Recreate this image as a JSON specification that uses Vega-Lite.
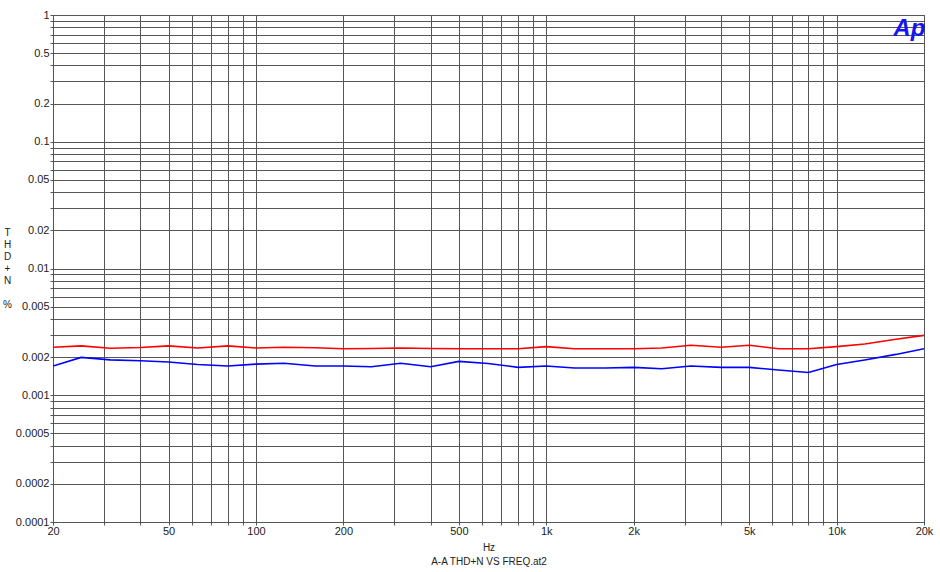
{
  "$schema": "https://vega.github.io/schema/vega-lite/v6.json",
  "width": 871,
  "height": 507,
  "autosize": {"type": "none"},
  "padding": {"left": 53, "top": 15, "right": 16, "bottom": 50},
  "background": "white",
  "config": {
    "font": "Liberation Sans",
    "view": {"stroke": "#555555", "strokeWidth": 1},
    "axis": {"labelFont": "Liberation Sans", "titleFont": "Liberation Sans", "labelColor": "#222222", "titleColor": "#222222", "labelFontSize": 11, "titleFontSize": 10, "titleFontWeight": "normal", "gridColor": "#555555", "gridOpacity": 1, "gridWidth": 1, "tickColor": "#555555", "domain": false, "labelOverlap": false, "labelBound": false, "labelFlush": false}
  },
  "datasets": {
    "thd": [
      {"f": 20, "red": 0.00239, "blue": 0.00170},
      {"f": 25, "red": 0.00245, "blue": 0.00199},
      {"f": 31.5, "red": 0.00235, "blue": 0.00190},
      {"f": 40, "red": 0.00238, "blue": 0.00187},
      {"f": 50, "red": 0.00245, "blue": 0.00183},
      {"f": 63, "red": 0.00236, "blue": 0.00175},
      {"f": 80, "red": 0.00245, "blue": 0.00170},
      {"f": 100, "red": 0.00236, "blue": 0.00176},
      {"f": 125, "red": 0.00239, "blue": 0.00179},
      {"f": 160, "red": 0.00237, "blue": 0.00170},
      {"f": 200, "red": 0.00233, "blue": 0.00170},
      {"f": 250, "red": 0.00234, "blue": 0.00168},
      {"f": 315, "red": 0.00236, "blue": 0.00179},
      {"f": 400, "red": 0.00234, "blue": 0.00168},
      {"f": 500, "red": 0.00233, "blue": 0.00185},
      {"f": 630, "red": 0.00233, "blue": 0.00178},
      {"f": 800, "red": 0.00233, "blue": 0.00166},
      {"f": 1000, "red": 0.00242, "blue": 0.00170},
      {"f": 1250, "red": 0.00233, "blue": 0.00164},
      {"f": 1600, "red": 0.00233, "blue": 0.00164},
      {"f": 2000, "red": 0.00233, "blue": 0.00166},
      {"f": 2500, "red": 0.00236, "blue": 0.00162},
      {"f": 3150, "red": 0.00248, "blue": 0.00170},
      {"f": 4000, "red": 0.00239, "blue": 0.00166},
      {"f": 5000, "red": 0.00248, "blue": 0.00166},
      {"f": 6300, "red": 0.00233, "blue": 0.00158},
      {"f": 8000, "red": 0.00233, "blue": 0.00151},
      {"f": 10000, "red": 0.00242, "blue": 0.00175},
      {"f": 12500, "red": 0.00254, "blue": 0.00190},
      {"f": 16000, "red": 0.00277, "blue": 0.00210},
      {"f": 20000, "red": 0.00297, "blue": 0.00233}
    ]
  },
  "layer": [
    {
      "data": {"name": "thd"},
      "mark": {"type": "line", "color": "#ff0000", "strokeWidth": 1.6, "clip": true},
      "encoding": {
        "x": {
          "field": "f", "type": "quantitative",
          "scale": {"type": "log", "domain": [20, 20000], "nice": false},
          "axis": {
            "title": ["Hz", "A-A THD+N VS FREQ.at2"],
            "titleY": 20, "titleBaseline": "top", "titleLineHeight": 14,
            "values": [20,30,40,50,60,70,80,90,100,200,300,400,500,600,700,800,900,1000,2000,3000,4000,5000,6000,7000,8000,9000,10000,20000],
            "labelExpr": "indexof([20,50,100,200,500,1000,2000,5000,10000,20000], datum.value) >= 0 ? (datum.value >= 1000 ? (datum.value/1000) + 'k' : '' + datum.value) : ''",
            "tickSize": 3, "labelPadding": 0, "grid": true
          }
        },
        "y": {
          "field": "red", "type": "quantitative",
          "scale": {"type": "log", "domain": [0.0001, 1], "nice": false},
          "axis": {
            "title": ["T", "H", "D", "+", "N", "\u200b", "%"],
            "titleAngle": 0, "titleX": -46, "titleY": 212, "titleAlign": "center", "titleBaseline": "top", "titleLineHeight": 12,
            "values": [0.0001,0.0002,0.0003,0.0004,0.0005,0.0006,0.0007,0.0008,0.0009,0.001,0.002,0.003,0.004,0.005,0.006,0.007,0.008,0.009,0.01,0.02,0.03,0.04,0.05,0.06,0.07,0.08,0.09,0.1,0.2,0.3,0.4,0.5,0.6,0.7,0.8,0.9,1],
            "labelExpr": "indexof([1,0.5,0.2,0.1,0.05,0.02,0.01,0.005,0.002,0.001,0.0005,0.0002,0.0001], datum.value) >= 0 ? format(datum.value, '') : ''",
            "tickSize": 3, "labelPadding": 1, "grid": true
          }
        }
      }
    },
    {
      "data": {"name": "thd"},
      "mark": {"type": "line", "color": "#0000ff", "strokeWidth": 1.6, "clip": true},
      "encoding": {
        "x": {"field": "f", "type": "quantitative"},
        "y": {"field": "blue", "type": "quantitative"}
      }
    },
    {
      "data": {"values": [{"logo": "Ap"}]},
      "mark": {"type": "text", "text": "Ap", "color": "#1515f0", "fontSize": 24, "fontWeight": "bold", "fontStyle": "italic", "align": "center", "baseline": "middle"},
      "encoding": {
        "x": {"datum": 17800},
        "y": {"datum": 0.78}
      }
    }
  ]
}
